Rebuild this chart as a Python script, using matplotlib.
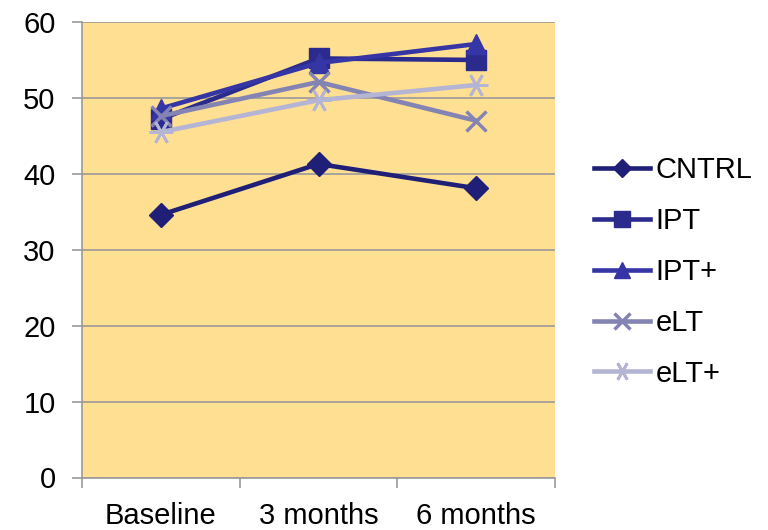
import matplotlib
matplotlib.use("Agg")
import matplotlib.pyplot as plt

plt.rcParams['font.family'] = ['Liberation Sans', 'DejaVu Sans']

categories = ["Baseline", "3 months", "6 months"]
series_names = ["CNTRL", "IPT", "IPT+", "eLT", "eLT+"]
cntrl = [34.6, 41.3, 38.1]
ipt = [47.2, 55.2, 55.0]
ipt_plus = [48.6, 54.6, 57.1]
elt = [47.6, 52.1, 47.0]
elt_plus = [45.5, 49.7, 51.7]
y_ticks = [0, 10, 20, 30, 40, 50, 60]

styles = [
    dict(color="#1F1F78", marker="D", ms=12),
    dict(color="#2B2B8E", marker="s", ms=15),
    dict(color="#3535A6", marker="^", ms=15),
    dict(color="#8484B4", marker="x", ms=15, mew=2.5),
    dict(color="#B4B4D4", marker=(6, 2, 90), ms=17, mew=2),
]

fig = plt.figure(figsize=(7.68, 5.30), dpi=100)
ax = fig.add_axes([82 / 768, 1 - 477.5 / 530, (555 - 82) / 768, (477.5 - 22) / 530])
ax.set_facecolor("#FFDF91")

x = list(range(len(categories)))
for name, vals, st in zip(series_names, [cntrl, ipt, ipt_plus, elt, elt_plus], styles):
    ax.plot(x, vals, lw=3.3, label=name, zorder=3, **st)

ax.set_xlim(-0.5, 2.5)
ax.set_ylim(0, 60)
ax.set_yticks(y_ticks)
ax.yaxis.grid(True, color="#9A9A9A", lw=1.2)
ax.set_axisbelow(True)

ax.set_xticks(x)
ax.set_xticklabels(categories)
ax.set_xticks([-0.5, 0.5, 1.5, 2.5], minor=True)
ax.tick_params(axis="x", which="major", length=0, pad=18, labelsize=21)
ax.tick_params(axis="x", which="minor", length=7, color="#9A9A9A", width=1.2)
ax.tick_params(axis="y", length=7, color="#9A9A9A", width=1.2, pad=12, labelsize=21)

for side in ("top", "right"):
    ax.spines[side].set_visible(False)
for side in ("left", "bottom"):
    ax.spines[side].set_color("#9A9A9A")
    ax.spines[side].set_linewidth(1.2)

leg = fig.legend(loc="center left", bbox_to_anchor=(568 / 768, 1 - 272 / 530),
                 frameon=False, fontsize=21, handlelength=1.9, handletextpad=0.2,
                 labelspacing=0.78, markerscale=0.8)

fig.savefig("out.png", dpi=100)
